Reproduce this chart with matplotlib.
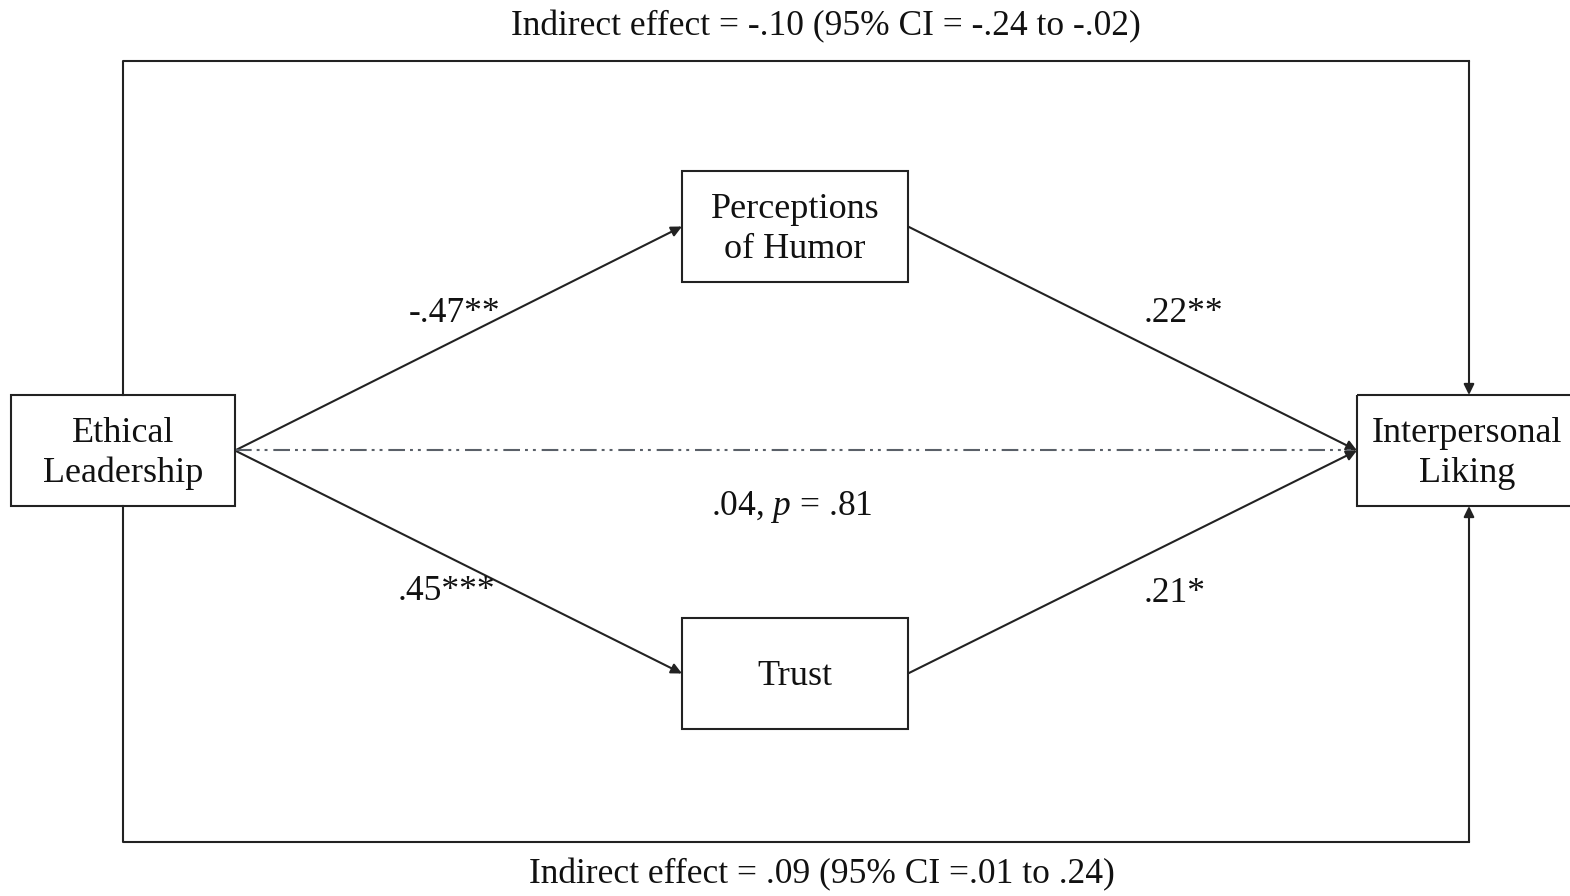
import matplotlib.pyplot as plt
from matplotlib.patches import Rectangle, FancyArrowPatch

# Chart content
node_labels = ['Ethical\nLeadership', 'Perceptions\nof Humor', 'Trust', 'Interpersonal\nLiking']
path_coefs = ['-.47**', '.22**', '.45***', '.21*']
direct_label = r'.04, $\it{p}$ = .81'
indirect_top = 'Indirect effect = -.10 (95% CI = -.24 to -.02)'
indirect_bottom = 'Indirect effect = .09 (95% CI =.01 to .24)'

# Layout (pixel coordinates, y downwards)
W, H = 1570, 896
boxes = {
    'X': (11, 395, 224, 111),
    'M1': (682, 171, 226, 111),
    'M2': (682, 618, 226, 111),
    'Y': (1357, 395, 230, 111),
}
text_cx = {'X': 123, 'M1': 795, 'M2': 795, 'Y': 1467}
order = ['X', 'M1', 'M2', 'Y']

plt.rcParams['font.family'] = ['Liberation Serif', 'DejaVu Serif']
plt.rcParams['mathtext.fontset'] = 'custom'
plt.rcParams['mathtext.it'] = 'Liberation Serif:italic'
plt.rcParams['mathtext.rm'] = 'Liberation Serif'

fig = plt.figure(figsize=(W / 100, H / 100), dpi=100)
ax = fig.add_axes([0, 0, 1, 1])
ax.set_xlim(0, W)
ax.set_ylim(H, 0)
ax.axis('off')

lw = 1.5
col = '#222222'
fs = 25.5

for key, label in zip(order, node_labels):
    x, y, w, h = boxes[key]
    ax.add_patch(Rectangle((x, y), w, h, fill=False, lw=lw, ec=col, zorder=3))
    lines = label.split('\n')
    offs = [47, 87] if len(lines) == 2 else [67]
    for ln, off in zip(lines, offs):
        ax.text(text_cx[key], y + off, ln, ha='center', va='baseline',
                fontsize=26, color='#111111', zorder=4)


def arrow(p0, p1, ls='-', c=col):
    a = FancyArrowPatch(p0, p1, arrowstyle='-|>,head_length=0.45,head_width=0.22',
                        mutation_scale=14, lw=lw, color=c, linestyle=ls,
                        shrinkA=0, shrinkB=0)
    ax.add_patch(a)


def right_mid(k):
    x, y, w, h = boxes[k]
    return (x + w, y + h / 2)


def left_mid(k):
    x, y, w, h = boxes[k]
    return (x, y + h / 2)


# direct path (dash-dot-dot)
ax.plot([right_mid('X')[0], left_mid('Y')[0] - 6], [right_mid('X')[1]] * 2,
        color='#5a6068', lw=lw, linestyle=(0, (8, 2.4, 1.4, 2.4, 1.4, 2.8)))
# indirect paths
arrow(right_mid('X'), left_mid('M1'))
arrow(right_mid('M1'), left_mid('Y'))
arrow(right_mid('X'), left_mid('M2'))
arrow(right_mid('M2'), left_mid('Y'))

# outer frame lines
xl, xr = 123, 1469
ytop, ybot = 61, 842
ax.plot([xl, xl, xr], [boxes['X'][1], ytop, ytop], color=col, lw=lw)
arrow((xr, ytop), (xr, boxes['Y'][1]))
ax.plot([xl, xl, xr], [boxes['X'][1] + boxes['X'][3], ybot, ybot], color=col, lw=lw)
arrow((xr, ybot), (xr, boxes['Y'][1] + boxes['Y'][3]))

# coefficient labels
coef_pos = [(455, 322), (1183, 322), (446, 600), (1175, 602)]
for (cx, cy), t in zip(coef_pos, path_coefs):
    ax.text(cx, cy, t, ha='center', va='baseline', fontsize=fs, color='#111111')
ax.text(792, 515, direct_label, ha='center', va='baseline', fontsize=fs, color='#111111')

ax.text(826, 35, indirect_top, ha='center', va='baseline', fontsize=fs, color='#111111')
ax.text(822, 883, indirect_bottom, ha='center', va='baseline', fontsize=fs, color='#111111')

fig.savefig('out.png', dpi=100, facecolor='white')
